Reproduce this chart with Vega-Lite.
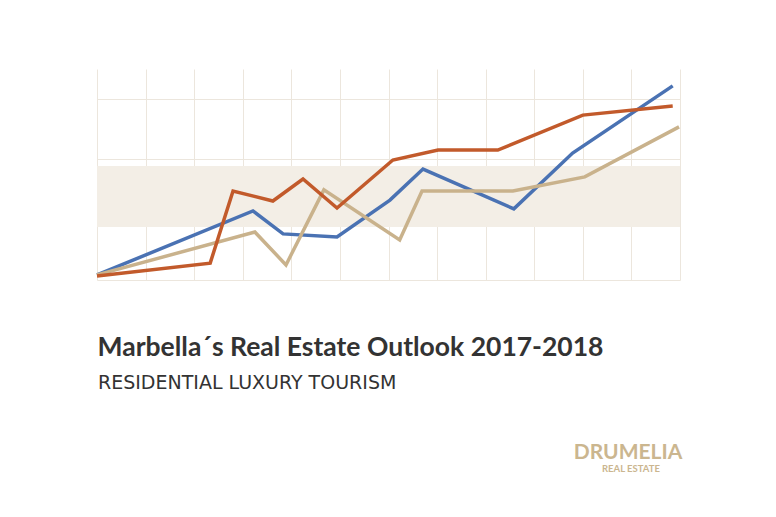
{
  "$schema": "https://vega.github.io/schema/vega-lite/v6.json",
  "autosize": {"type": "none"},
  "width": 583,
  "height": 211,
  "padding": {"left": 97, "top": 69, "right": 96, "bottom": 237},
  "background": "#ffffff",
  "config": {
    "view": {"stroke": null},
    "font": "Lato"
  },
  "datasets": {
    "band": [{"x0": 0, "x1": 12, "y0": 1.76, "y1": 3.78}],
    "lines": [
      {"series": "blue", "x": 0, "y": 0.17},
      {"series": "blue", "x": 3.21, "y": 2.29},
      {"series": "blue", "x": 3.83, "y": 1.53},
      {"series": "blue", "x": 4.94, "y": 1.43},
      {"series": "blue", "x": 6.03, "y": 2.65},
      {"series": "blue", "x": 6.71, "y": 3.68},
      {"series": "blue", "x": 8.58, "y": 2.36},
      {"series": "blue", "x": 9.79, "y": 4.21},
      {"series": "blue", "x": 11.85, "y": 6.44},
      {"series": "tan", "x": 0, "y": 0.17},
      {"series": "tan", "x": 3.25, "y": 1.59},
      {"series": "tan", "x": 3.89, "y": 0.5},
      {"series": "tan", "x": 4.67, "y": 2.99},
      {"series": "tan", "x": 6.23, "y": 1.33},
      {"series": "tan", "x": 6.69, "y": 2.95},
      {"series": "tan", "x": 8.56, "y": 2.95},
      {"series": "tan", "x": 10.04, "y": 3.42},
      {"series": "tan", "x": 11.98, "y": 5.08},
      {"series": "orange", "x": 0, "y": 0.13},
      {"series": "orange", "x": 2.33, "y": 0.56},
      {"series": "orange", "x": 2.8, "y": 2.95},
      {"series": "orange", "x": 3.62, "y": 2.62},
      {"series": "orange", "x": 4.24, "y": 3.35},
      {"series": "orange", "x": 4.94, "y": 2.39},
      {"series": "orange", "x": 6.09, "y": 3.98},
      {"series": "orange", "x": 7.02, "y": 4.31},
      {"series": "orange", "x": 8.25, "y": 4.31},
      {"series": "orange", "x": 10.0, "y": 5.47},
      {"series": "orange", "x": 11.85, "y": 5.77}
    ],
    "title": [{"label": "Marbella´s Real Estate Outlook 2017-2018", "x": 0.01, "y": -2.52}],
    "subtitle": [{"label": "RESIDENTIAL LUXURY TOURISM", "x": 0.02, "y": -3.62}],
    "logo": [
      {"label": "DRUMELIA", "x": 10.93, "y": -5.95, "size": 21},
      {"label": "REAL ESTATE", "x": 10.99, "y": -6.36, "size": 9.5}
    ]
  },
  "layer": [
    {
      "data": {"name": "band"},
      "mark": {"type": "rect", "color": "#f3eee6"},
      "encoding": {
        "x": {"field": "x0", "type": "quantitative", "scale": {"domain": [0, 12], "nice": false, "zero": false},
          "axis": {"values": [0,1,2,3,4,5,6,7,8,9,10,11,12], "grid": true, "gridColor": "#ece6dd", "gridWidth": 1, "labels": false, "ticks": false, "domain": false, "title": null}},
        "x2": {"field": "x1"},
        "y": {"field": "y0", "type": "quantitative", "scale": {"domain": [0, 7], "nice": false, "zero": false},
          "axis": {"values": [0,1,2,3,4,5,6,7], "grid": true, "gridColor": "#ece6dd", "gridWidth": 1, "labels": false, "ticks": false, "domain": false, "title": null}},
        "y2": {"field": "y1"}
      }
    },
    {
      "data": {"name": "lines"},
      "mark": {"type": "line", "strokeWidth": 3.5, "strokeJoin": "miter", "strokeCap": "butt"},
      "encoding": {
        "x": {"field": "x", "type": "quantitative"},
        "y": {"field": "y", "type": "quantitative"},
        "detail": {"field": "series"},
        "color": {"field": "series", "type": "nominal",
          "scale": {"domain": ["blue", "tan", "orange"], "range": ["#4a72b3", "#c9b28c", "#c25a2b"]},
          "legend": null}
      }
    },
    {
      "data": {"name": "title"},
      "mark": {"type": "text", "color": "#333333", "align": "left", "baseline": "alphabetic", "font": "Lato", "fontWeight": "bold", "fontSize": 26.5},
      "encoding": {
        "x": {"field": "x", "type": "quantitative"},
        "y": {"field": "y", "type": "quantitative"},
        "text": {"field": "label"}
      }
    },
    {
      "data": {"name": "subtitle"},
      "mark": {"type": "text", "color": "#333333", "align": "left", "baseline": "alphabetic", "font": "DejaVu Sans", "fontWeight": "normal", "fontSize": 19},
      "encoding": {
        "x": {"field": "x", "type": "quantitative"},
        "y": {"field": "y", "type": "quantitative"},
        "text": {"field": "label"}
      }
    },
    {
      "data": {"name": "logo"},
      "mark": {"type": "text", "font": "Lato", "fontWeight": "bold", "color": "#cbb68f", "align": "center", "baseline": "alphabetic"},
      "encoding": {
        "x": {"field": "x", "type": "quantitative"},
        "y": {"field": "y", "type": "quantitative"},
        "text": {"field": "label"},
        "size": {"field": "size", "type": "quantitative", "scale": null}
      }
    }
  ]
}
